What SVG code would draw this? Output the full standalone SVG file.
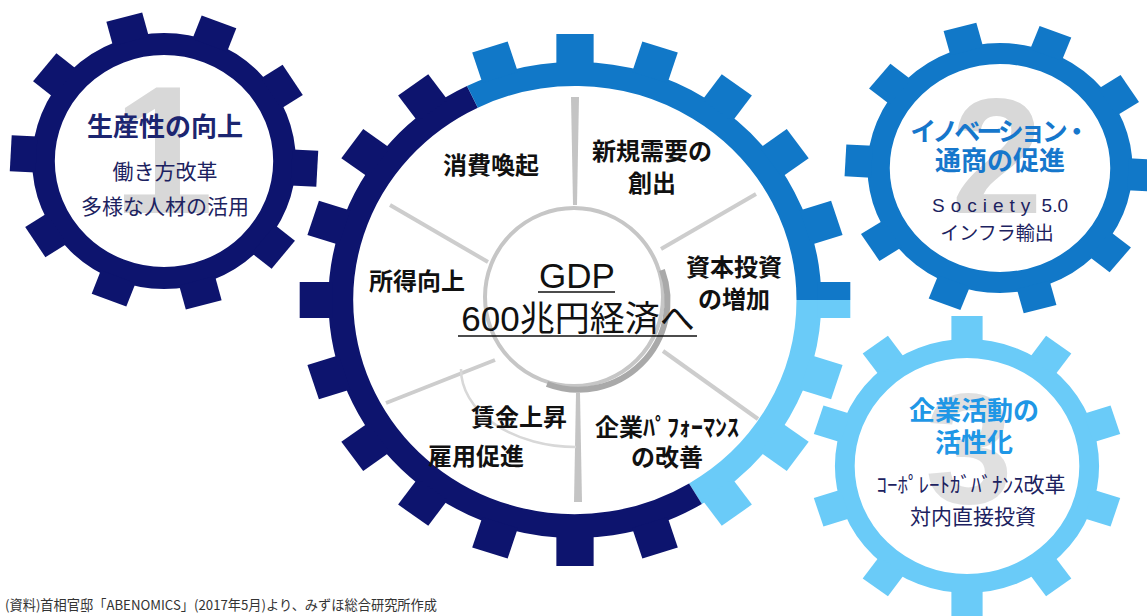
<svg xmlns="http://www.w3.org/2000/svg" xmlns:xlink="http://www.w3.org/1999/xlink" width="1147" height="616" viewBox="0 0 1147 616">
<style>
.navy{fill:#0D146E}
.mid{fill:#1178C8}
.light{fill:#6ACBF8}
.ringN{fill:none;stroke:#0D146E}
.ringM{fill:none;stroke:#1178C8}
.ringL{fill:none;stroke:#6ACBF8}
.wm{font-family:"Liberation Sans",Arial,sans-serif;font-weight:700;fill:#D8D8D8;text-anchor:middle}
.jp{font-family:"Noto Sans CJK JP","Noto Sans",sans-serif;text-anchor:middle}
.lbl{font-family:"Noto Sans CJK JP",sans-serif;font-weight:700;font-size:24px;fill:#111;text-anchor:middle}
.sub{font-family:"Noto Sans CJK JP",sans-serif;fill:#1C2260;text-anchor:middle}
.spoke{stroke:#CDCDCD;stroke-width:4;fill:none}
</style>
<defs>
<rect id="t1" x="124" y="-18" width="25" height="36"/>
<rect id="t2" x="121" y="-16" width="25" height="32"/>
<rect id="t3" x="123" y="-15" width="27" height="30"/>
<rect id="tc" x="234" y="-18" width="32" height="36"/>
</defs>

<g id="gear1">
  <g transform="translate(164,161) scale(1.03,1)">
    <circle class="ringN" r="117" stroke-width="22"/>
    <g class="navy">
      <use href="#t1" transform="rotate(3)"/><use href="#t1" transform="rotate(39)"/>
      <use href="#t1" transform="rotate(75)"/><use href="#t1" transform="rotate(111)"/>
      <use href="#t1" transform="rotate(147)"/><use href="#t1" transform="rotate(183)"/>
      <use href="#t1" transform="rotate(219)"/><use href="#t1" transform="rotate(255)"/>
      <use href="#t1" transform="rotate(291)"/><use href="#t1" transform="rotate(327)"/>
    </g>
  </g>
  <text class="wm" x="163" y="213" font-size="182">1</text>
  <text class="jp" x="165" y="136" font-size="26" font-weight="700" fill="#1C2570">生産性の向上</text>
  <text class="sub" x="165" y="179" font-size="21">働き方改革</text>
  <text class="sub" x="165" y="214" font-size="21">多様な人材の活用</text>
</g>

<g id="gear2">
  <g transform="translate(1000,168) scale(1.06,1)">
    <circle class="ringM" r="114.5" stroke-width="21"/>
    <g class="mid">
      <use href="#t2" transform="rotate(3)"/><use href="#t2" transform="rotate(39)"/>
      <use href="#t2" transform="rotate(75)"/><use href="#t2" transform="rotate(111)"/>
      <use href="#t2" transform="rotate(147)"/><use href="#t2" transform="rotate(183)"/>
      <use href="#t2" transform="rotate(219)"/><use href="#t2" transform="rotate(255)"/>
      <use href="#t2" transform="rotate(291)"/><use href="#t2" transform="rotate(327)"/>
    </g>
  </g>
  <text class="wm" x="997" y="213" font-size="165">2</text>
  <text class="jp" x="998" y="141" font-size="26" font-weight="700" fill="#1677CC" letter-spacing="-4">イノベーション・</text>
  <text class="jp" x="1000" y="170" font-size="26" font-weight="700" fill="#1677CC">通商の促進</text>
  <text class="sub" x="1000" y="212" font-size="19" style="font-family:'Liberation Sans',Arial,sans-serif"><tspan letter-spacing="6">Society</tspan><tspan> 5.0</tspan></text>
  <text class="sub" x="997" y="240" font-size="19">インフラ輸出</text>
</g>

<g id="gear3">
  <g transform="translate(967,466) scale(1.04,1)">
    <circle class="ringL" r="117.5" stroke-width="19"/>
    <g class="light">
      <use href="#t3" transform="rotate(18)"/><use href="#t3" transform="rotate(54)"/>
      <use href="#t3" transform="rotate(90)"/><use href="#t3" transform="rotate(126)"/>
      <use href="#t3" transform="rotate(162)"/><use href="#t3" transform="rotate(198)"/>
      <use href="#t3" transform="rotate(234)"/><use href="#t3" transform="rotate(270)"/>
      <use href="#t3" transform="rotate(306)"/><use href="#t3" transform="rotate(342)"/>
    </g>
  </g>
  <text class="wm" x="969" y="503" font-size="158" fill-opacity="0.8">3</text>
  <text class="jp" x="974" y="420" font-size="26" font-weight="700" fill="#1F97E6">企業活動の</text>
  <text class="jp" x="974" y="452" font-size="26" font-weight="700" fill="#1F97E6">活性化</text>
  <text class="sub" x="971" y="492" font-size="21">ｺｰﾎﾟﾚｰﾄｶﾞﾊﾞﾅﾝｽ改革</text>
  <text class="sub" x="973" y="524" font-size="21">対内直接投資</text>
</g>

<g id="central">
  <g transform="translate(575,300) scale(1.035,1)">
    <path class="ringL" stroke-width="24" d="M226 0 A226 226 0 0 1 116.4 193.7"/>
    <path class="ringN" stroke-width="24" d="M116.4 193.7 A226 226 0 1 1 -99.1 -203.1"/>
    <path class="ringM" stroke-width="24" d="M-99.1 -203.1 A226 226 0 0 1 226 0"/>
    <rect class="mid" x="234" y="-18" width="32" height="18"/>
    <rect class="light" x="234" y="0" width="32" height="18"/>
    <g class="light">
      <use href="#tc" transform="rotate(18)"/><use href="#tc" transform="rotate(36)"/><use href="#tc" transform="rotate(54)"/>
    </g>
    <g class="navy">
      <use href="#tc" transform="rotate(72)"/><use href="#tc" transform="rotate(90)"/><use href="#tc" transform="rotate(108)"/>
      <use href="#tc" transform="rotate(126)"/><use href="#tc" transform="rotate(144)"/><use href="#tc" transform="rotate(162)"/>
      <use href="#tc" transform="rotate(180)"/><use href="#tc" transform="rotate(198)"/><use href="#tc" transform="rotate(216)"/>
      <use href="#tc" transform="rotate(234)"/>
    </g>
    <g class="mid">
      <use href="#tc" transform="rotate(252)"/><use href="#tc" transform="rotate(270)"/><use href="#tc" transform="rotate(288)"/>
      <use href="#tc" transform="rotate(306)"/><use href="#tc" transform="rotate(324)"/><use href="#tc" transform="rotate(342)"/>
    </g>
  </g>
  <g id="spokes">
    <polygon points="571,97 579,97 577,205 573,205" fill="#C4C4C4"/>
    <polygon points="576,393 580,393 582,502 574,502" fill="#C4C4C4"/>
    <line class="spoke" x1="661" y1="249" x2="756" y2="194"/>
    <line class="spoke" x1="663" y1="351" x2="758" y2="419"/>
    <line class="spoke" x1="390" y1="205" x2="488" y2="262"/>
    <line class="spoke" x1="386" y1="403" x2="495" y2="360"/>
    <path d="M461 369 A115 78 0 0 0 576 447" fill="none" stroke="#D8D8D8" stroke-width="2.5"/>
  </g>
  <circle cx="574" cy="297" r="89" fill="none" stroke="#C6C6C6" stroke-width="4"/>
  <path d="M660 268 A89 89 0 0 1 545 382" fill="none" stroke="#A9A9A9" stroke-width="6" transform="translate(2,2)"/>
  <text x="577" y="288" font-size="35" fill="#111" text-anchor="middle" style="font-family:'Liberation Sans','Noto Sans CJK JP',sans-serif">GDP</text>
  <line x1="538" y1="292" x2="615" y2="292" stroke="#111" stroke-width="1.6"/>
  <text x="578" y="331" font-size="35" fill="#111" text-anchor="middle" style="font-family:'Liberation Sans','Noto Sans CJK JP',sans-serif">600兆円経済へ</text>
  <line x1="458" y1="336" x2="697" y2="336" stroke="#111" stroke-width="1.6"/>
  <text class="lbl" x="491" y="174">消費喚起</text>
  <text class="lbl" x="652" y="160">新規需要の</text>
  <text class="lbl" x="652" y="192">創出</text>
  <text class="lbl" x="734" y="276">資本投資</text>
  <text class="lbl" x="734" y="308">の増加</text>
  <text class="lbl" x="417" y="290">所得向上</text>
  <text class="lbl" x="519" y="426">賃金上昇</text>
  <text class="lbl" x="476" y="465">雇用促進</text>
  <text class="lbl" x="667" y="436">企業ﾊﾟﾌｫｰﾏﾝｽ</text>
  <text class="lbl" x="667" y="466">の改善</text>
</g>

<text id="caption" x="5" y="610" font-size="13.5" fill="#333" textLength="432" lengthAdjust="spacingAndGlyphs" style="font-family:'Noto Sans CJK JP',sans-serif">(資料)首相官邸「ABENOMICS」(2017年5月)より、みずほ総合研究所作成</text>
</svg>
